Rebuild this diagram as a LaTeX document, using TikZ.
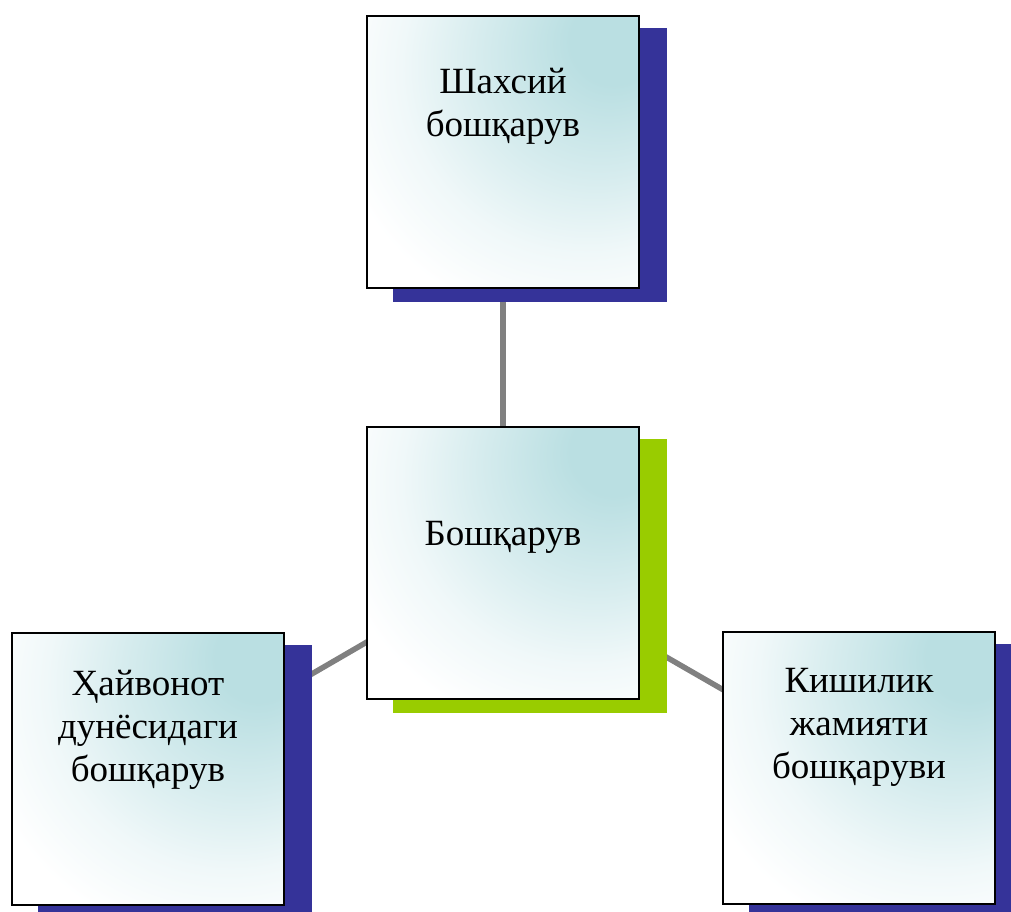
\documentclass[tikz,border=0pt]{standalone}
\usepackage{fontspec}
\setmainfont{Liberation Serif}
\usetikzlibrary{backgrounds}
\definecolor{cteal}{RGB}{186,223,226}
\definecolor{cmid}{RGB}{214,236,238}
\definecolor{clight}{RGB}{240,248,249}
\definecolor{cblue}{RGB}{53,51,153}
\definecolor{cgreen}{RGB}{153,204,0}
\definecolor{cline}{RGB}{128,128,128}
\pgfdeclareradialshading{cornerglow}{\pgfpoint{22bp}{22bp}}{color(0bp)=(cteal); color(8bp)=(cteal); color(22bp)=(cmid); color(34bp)=(clight); color(45bp)=(white); color(110bp)=(white)}
\begin{document}
\begin{tikzpicture}[x=1pt,y=-1pt,
  box/.style={draw=black, line width=2pt, minimum width=272pt, minimum height=272pt, inner sep=0pt, shade, shading=cornerglow},
  shadowbox/.style={minimum width=274pt, minimum height=274pt, inner sep=0pt, draw=none},
  txt/.style={font=\fontsize{37}{43}\selectfont, align=center, anchor=north, inner sep=0pt},
  link/.style={draw=cline, line width=5.5pt}]
\useasboundingbox (0,0) rectangle (1011,912);
\begin{scope}
\clip (0,0) rectangle (1011,912);
% shadows
\node[shadowbox, fill=cblue] (ts) at (530,165) {};
\node[shadowbox, fill=cgreen] (cs) at (530,576) {};
\node[shadowbox, fill=cblue] (ls) at (175,782) {};
\node[shadowbox, fill=cblue] (rs) at (886,781) {};
% boxes
\node[box] (top) at (503,152) {};
\node[box] (mid) at (503,563) {};
\node[box] (left) at (148,769) {};
\node[box] (right) at (859,768) {};
% texts
\node[txt] (ttop) at (503,68) {Шахсий\\бошқарув};
\node[txt] (tmid) at (503,521) {Бошқарув};
\node[txt] (tleft) at (148,670) {Ҳайвонот\\дунёсидаги\\бошқарув};
\node[txt] (tright) at (859,668) {Кишилик\\жамияти\\бошқаруви};
\end{scope}
\begin{pgfonlayer}{background}
\draw[link] (mid.center) -- (top.center);
\draw[link] (mid.center) -- (left.center);
\draw[link] (mid.center) -- (right.center);
\end{pgfonlayer}
\end{tikzpicture}
\end{document}
